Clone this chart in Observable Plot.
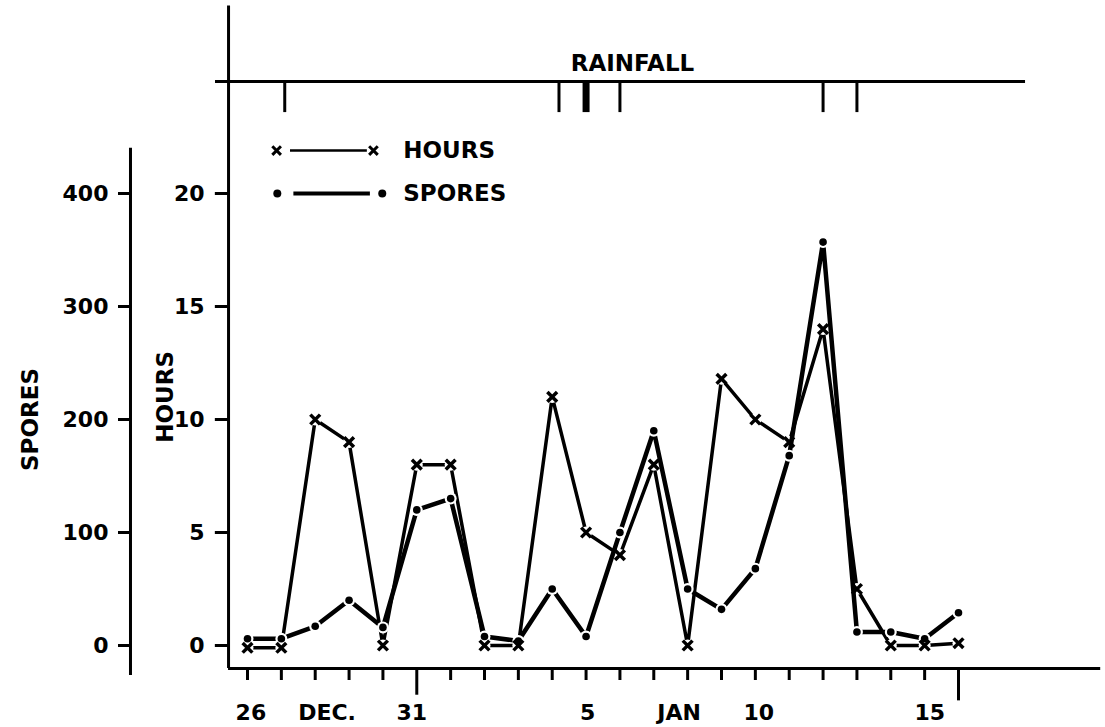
<!DOCTYPE html>
<html>
<head>
<meta charset="utf-8">
<script src="https://cdn.jsdelivr.net/npm/d3@7"></script>
<script src="https://cdn.jsdelivr.net/npm/@observablehq/plot@0.6"></script>
<style>
  html, body { margin: 0; padding: 0; background: #fff; }
  #chart svg { display: block; }
</style>
</head>
<body>
<div id="chart"></div>
<script>
// ---- data (day index 0 = Dec 26) ----
const days   = [0,1,2,3,4,5,6,7,8,9,10,11,12,13,14,15,16,17,18,19,20,21];
const hours  = [-0.1,-0.1,10,9,0,8,8,0,0,11,5,4,8,0,11.8,10,9,14,2.5,0,0,0.1];
const spores = [6,6,17,40,16,120,130,8,4,50,8,100,190,50,32,68,168,357,12,12,6,29];

const hourTicks  = [0,5,10,15,20];
const sporeTicks = [0,100,200,300,400];

const dateLabels    = ["26","DEC.","31","5","JAN","10","15"];
const dateLabelDays = [0.1,2.35,4.85,10.05,12.75,15.1,20.15];
const longTickDays  = [5,21];

const rainDays   = [1.1,9.2,10,11,17,18];
const rainWeight = [3,3,7,3,3,3];

// ---- tables built from the arrays ----
const rows = days.map((d,i) => ({day:d, hours:hours[i], spores:spores[i]}));
const rain = rainDays.map((d,i) => ({day:d, w:rainWeight[i]}));
const labels = dateLabels.map((t,i) => ({text:t, day:dateLabelDays[i]}));

// layout helpers (decoration positions expressed in scale units)
const AX_H = -0.56;   // hours axis
const AX_S = -3.456;  // spores axis
const Y_AXIS = -1.02; // x-axis line level
const font = "DejaVu Sans";
const FS = 23;

const chart = Plot.plot({
  width: 1105, height: 727,
  margin: 0,
  x: {domain: [0,21], range: [247,958], axis: null},
  y: {domain: [0,20], range: [645,193], axis: null},
  style: {fontFamily: font, fontWeight: "bold", background: "white", color: "black"},
  marks: [
    // frame lines
    Plot.ruleX([AX_H], {x: d => d, y1: Y_AXIS, y2: 28.3, strokeWidth: 3}),
    Plot.ruleY([Y_AXIS], {y: d => d, x1: AX_H, x2: 25.2, strokeWidth: 3}),
    Plot.ruleX([AX_S], {x: d => d, y1: -1.33, y2: 22, strokeWidth: 3}),
    // hours ticks + labels
    Plot.ruleY(hourTicks, {y: d => d, x1: -0.95, x2: AX_H, strokeWidth: 3}),
    Plot.text(hourTicks, {y: d => d, x: AX_H, dx: -24, text: d => String(d), textAnchor: "end", fontSize: 22, letterSpacing: 0.5}),
    // spores ticks + labels
    Plot.ruleY(sporeTicks, {y: d => d/20, x1: -3.81, x2: AX_S, strokeWidth: 3}),
    Plot.text(sporeTicks, {y: d => d/20, x: AX_S, dx: -22, text: d => String(d), textAnchor: "end", fontSize: 22, letterSpacing: 0.5}),
    // axis titles
    Plot.text(["SPORES"], {x: -6.4, y: 10, text: d => d, rotate: -90, fontSize: FS, letterSpacing: 1.5}),
    Plot.text(["HOURS"], {x: -2.42, y: 11, text: d => d, rotate: -90, fontSize: FS, letterSpacing: 1.5}),
    // x ticks
    Plot.ruleX(days, {x: d => d, y1: Y_AXIS, y2: d => longTickDays.includes(d) ? (d === 21 ? -2.45 : -2.2) : -1.55, strokeWidth: 3}),
    Plot.text(labels, {x: "day", y: -3.0, text: "text", fontSize: 22, letterSpacing: 1}),
    // rainfall
    Plot.ruleY([24.96], {y: d => d, x1: -0.945, x2: 22.98, strokeWidth: 3}),
    Plot.ruleX(rain, {x: "day", y1: 24.96, y2: 23.58, strokeWidth: "w"}),
    Plot.text(["RAINFALL"], {x: 11.37, y: 25.75, text: d => d, fontSize: FS, letterSpacing: 1.5}),
    // legend
    Plot.ruleY([21.9], {y: d => d, x1: 1.27, x2: 3.54, strokeWidth: 2.5}),
    Plot.dot([0.86, 3.72], {x: d => d, y: 21.9, symbol: "times", r: 4, stroke: "black", strokeWidth: 3}),
    Plot.text(["HOURS"], {x: 4.6, y: 21.9, text: d => d, textAnchor: "start", fontSize: FS, letterSpacing: 1.5}),
    Plot.ruleY([20.0], {y: d => d, x1: 1.37, x2: 3.63, strokeWidth: 4}),
    Plot.dot([0.88, 3.98], {x: d => d, y: 20.0, r: 4, fill: "black"}),
    Plot.text(["SPORES"], {x: 4.6, y: 20.0, text: d => d, textAnchor: "start", fontSize: FS, letterSpacing: 1.5}),
    // hours series
    Plot.line(rows, {x: "day", y: "hours", stroke: "black", strokeWidth: 3.5}),
    Plot.dot(rows, {x: "day", y: "hours", r: 6, fill: "white"}),
    // spores series (same scale: 400 spores = 20 hours)
    Plot.line(rows, {x: "day", y: d => d.spores/20, stroke: "black", strokeWidth: 4.5}),
    Plot.dot(rows, {x: "day", y: d => d.spores/20, r: 6, fill: "white"}),
    Plot.dot(rows, {x: "day", y: "hours", symbol: "times", r: 4.5, stroke: "black", strokeWidth: 3.5}),
    Plot.dot(rows, {x: "day", y: d => d.spores/20, r: 3.8, fill: "black"})
  ]
});
document.getElementById("chart").appendChild(chart);
</script>
</body>
</html>
